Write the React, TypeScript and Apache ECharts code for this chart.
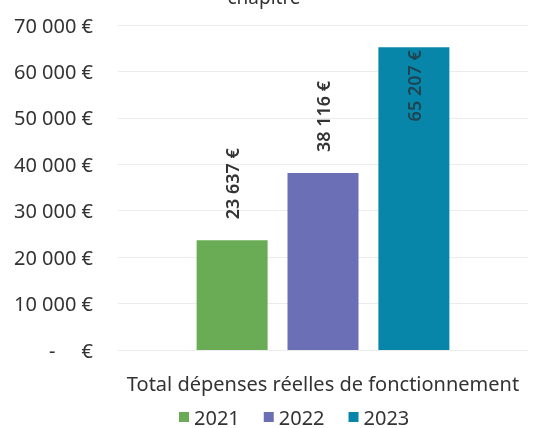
import React, { useEffect, useRef } from "react";
import * as echarts from "echarts";

const categories = ["Total dépenses réelles de fonctionnement"];
const seriesNames = ["2021", "2022", "2023"];
const values2021 = [23637];
const values2022 = [38116];
const values2023 = [65207];
const colors = ["#6aab55", "#6a6fb6", "#0786aa"];
const yTicks = [0, 10000, 20000, 30000, 40000, 50000, 60000, 70000];
const titleText = "chapitre";

const NB = "\u00a0";
function fmt(v: number): string {
  if (v === 0) return "-" + NB.repeat(5) + "€";
  const s = Math.round(v).toString().replace(/\B(?=(\d{3})+(?!\d))/g, NB);
  return s + NB + "€";
}

export default function App() {
  const ref = useRef<HTMLDivElement>(null);
  useEffect(() => {
    if (!ref.current) return;
    const chart = echarts.init(ref.current, undefined, { renderer: "svg" });
    const font = "'Noto Sans', 'Open Sans', sans-serif";
    const seriesData = [values2021, values2022, values2023];
    chart.setOption({
      animation: false,
      textStyle: { fontFamily: font },
      graphic: [
        {
          type: "text",
          x: 264,
          y: 6,
          style: {
            text: titleText,
            font: `19px ${font}`,
            fill: "#333",
            textAlign: "center",
            textVerticalAlign: "bottom",
          },
        },
      ],
      grid: { left: 118, right: 8, top: 25, bottom: 78, containLabel: false },
      legend: {
        data: seriesNames,
        left: 174,
        top: 402,
        itemWidth: 10,
        itemHeight: 10,
        itemGap: 24,
        icon: "rect",
        textStyle: { fontSize: 20, color: "#333", fontFamily: font },
      },
      xAxis: {
        type: "category",
        data: categories,
        axisLine: { show: false },
        axisTick: { show: false },
        axisLabel: { fontSize: 20, color: "#333", margin: 23, fontFamily: font },
      },
      yAxis: {
        type: "value",
        min: 0,
        max: 70000,
        interval: 10000,
        axisLine: { show: false },
        axisTick: { show: false },
        splitLine: { lineStyle: { color: "#ececec", width: 1 } },
        axisLabel: {
          fontSize: 20,
          color: "#333",
          margin: 25,
          fontFamily: font,
          formatter: (v: number) => (yTicks.includes(v) ? fmt(v) : ""),
        },
      },
      series: seriesNames.map((name, i) => {
        const inside = i === 2;
        return {
          name,
          type: "bar",
          data: seriesData[i],
          barWidth: 71,
          barGap: "28%",
          itemStyle: { color: colors[i] },
          label: {
            show: true,
            rotate: 90,
            position: inside ? "insideTop" : "top",
            align: inside ? "right" : "left",
            verticalAlign: "middle",
            distance: inside ? 3 : 21,
            fontSize: 18,
            fontWeight: 600,
            fontFamily: font,
            color: inside ? "#1f4452" : "#333",
            formatter: (p: any) => fmt(p.value),
          },
        };
      }),
    });
    return () => chart.dispose();
  }, []);
  return (
    <div
      ref={ref}
      style={{ position: "fixed", left: 0, top: 0, width: 536, height: 428 }}
    />
  );
}
